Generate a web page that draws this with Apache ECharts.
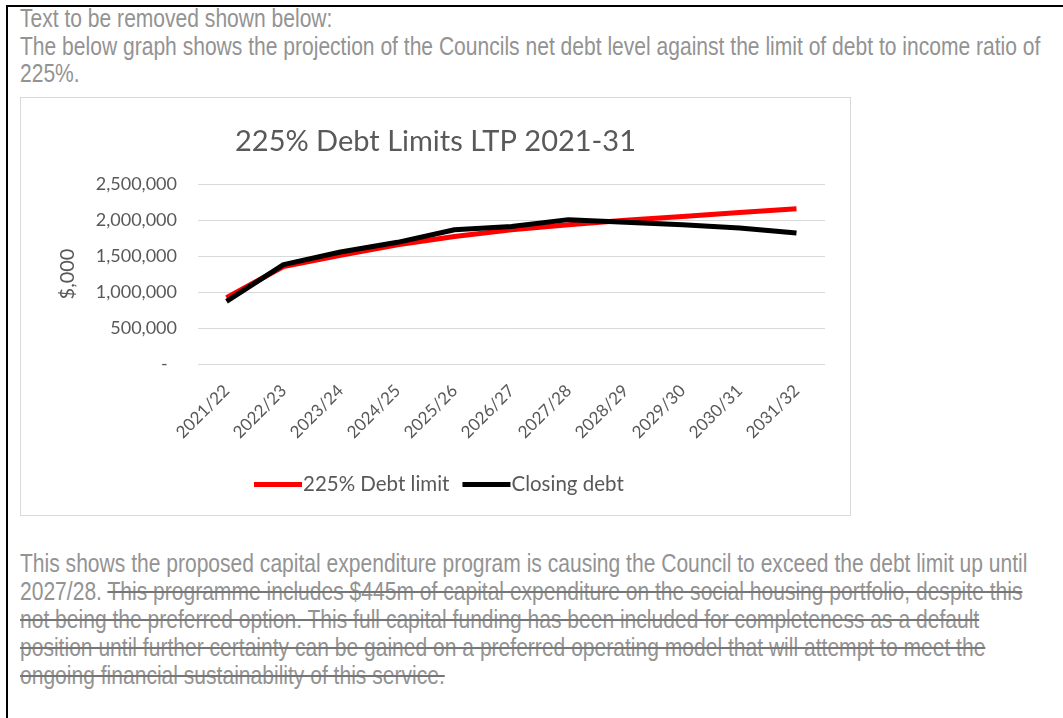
<!DOCTYPE html>
<html>
<head>
<meta charset="utf-8">
<script src="https://cdn.jsdelivr.net/npm/echarts@6/dist/echarts.min.js"></script>
<style>
  html, body { margin: 0; padding: 0; background: #fff; }
  body { width: 1063px; height: 718px; position: relative; overflow: hidden; }
  .frame { position: absolute; left: 6px; top: 5px; right: 0; bottom: -10px;
           border-left: 2px solid #000; border-top: 2px solid #000; }
  .doc { position: absolute; left: 20px; font-family: "Liberation Sans", Arial, sans-serif;
         font-size: 25px; color: #939393; line-height: 27.5px; white-space: nowrap;
         transform: scaleX(0.842); transform-origin: 0 0; }
  .doc p { margin: 0; }
  .struck { text-decoration: line-through; text-decoration-color: #767676; text-decoration-thickness: 2px; }
  #chart { position: absolute; left: 20px; top: 97px; width: 831px; height: 419px;
           border: 1px solid #d9d9d9; box-sizing: border-box; background: #fff; }
</style>
</head>
<body>
<div class="frame"></div>
<div class="doc" style="top:5px">
  <p>Text to be removed shown below:</p>
  <p>The below graph shows the projection of the Councils net debt level against the limit of debt to income ratio of</p>
  <p>225%.</p>
</div>
<div id="chart"></div>
<div class="doc" style="top:549px; line-height:28px">
  <p>This shows the proposed capital expenditure program is causing the Council to exceed the debt limit up until</p>
  <p>2027/28. <span class="struck">This programme includes $445m of capital expenditure on the social housing portfolio, despite this</span></p>
  <p><span class="struck">not being the preferred option. This full capital funding has been included for completeness as a default</span></p>
  <p><span class="struck">position until further certainty can be gained on a preferred operating model that will attempt to meet the</span></p>
  <p><span class="struck">ongoing financial sustainability of this service.</span></p>
</div>
<script>
// Financial years of the long-term plan
const years = ['2021/22', '2022/23', '2023/24', '2024/25', '2025/26', '2026/27',
               '2027/28', '2028/29', '2029/30', '2030/31', '2031/32'];
// 225% of income debt limit ($,000)
const debtLimit = [920000, 1355000, 1510000, 1657000, 1770000, 1865000,
                   1935000, 1995000, 2050000, 2105000, 2157000];
// Projected closing net debt ($,000)
const closingDebt = [870000, 1380000, 1556000, 1690000, 1865000, 1910000,
                     2005000, 1970000, 1935000, 1890000, 1820000];
// Value axis ticks
const yTicks = { min: 0, max: 2500000, interval: 500000 };

const chart = echarts.init(document.getElementById('chart'));
const txt = '#595959';
const font = 'Lato, "Open Sans", sans-serif';

chart.setOption({
  animation: false,
  textStyle: { fontFamily: font },
  title: {
    text: '225% Debt Limits LTP 2021-31',
    left: 'center', top: 24,
    textStyle: { fontFamily: font, fontSize: 29, fontWeight: 'normal', color: txt }
  },
  legend: {
    bottom: 15, left: 228,
    icon: 'rect', itemWidth: 48, itemHeight: 5, itemGap: 13,
    textStyle: { fontFamily: font, fontSize: 20.5, color: txt, padding: [0, 0, 0, -4] },
    data: ['225% Debt limit', 'Closing debt']
  },
  grid: { left: 177, top: 86, width: 627, height: 180 },
  xAxis: {
    type: 'category', data: years, boundaryGap: true,
    axisLine: { show: false }, axisTick: { show: false },
    axisLabel: { rotate: 45, fontFamily: font, fontSize: 17, color: txt, margin: 24, interval: 0 }
  },
  yAxis: {
    type: 'value', min: yTicks.min, max: yTicks.max, interval: yTicks.interval,
    name: '$,000', nameLocation: 'middle', nameGap: 120, nameRotate: 90,
    nameTextStyle: { fontFamily: font, fontSize: 20, color: txt },
    axisLine: { show: false }, axisTick: { show: false },
    splitLine: { lineStyle: { color: '#d9d9d9', width: 1 } },
    axisLabel: {
      fontFamily: font, fontSize: 18, color: txt, margin: 21,
      formatter: v => v === 0 ? '-  ' : v.toLocaleString('en-US')
    }
  },
  series: [
    { name: '225% Debt limit', type: 'line', data: debtLimit, symbol: 'none',
      itemStyle: { color: '#ff0000' }, lineStyle: { color: '#ff0000', width: 5 } },
    { name: 'Closing debt', type: 'line', data: closingDebt, symbol: 'none',
      itemStyle: { color: '#000000' }, lineStyle: { color: '#000000', width: 5 } }
  ]
});
</script>
</body>
</html>
